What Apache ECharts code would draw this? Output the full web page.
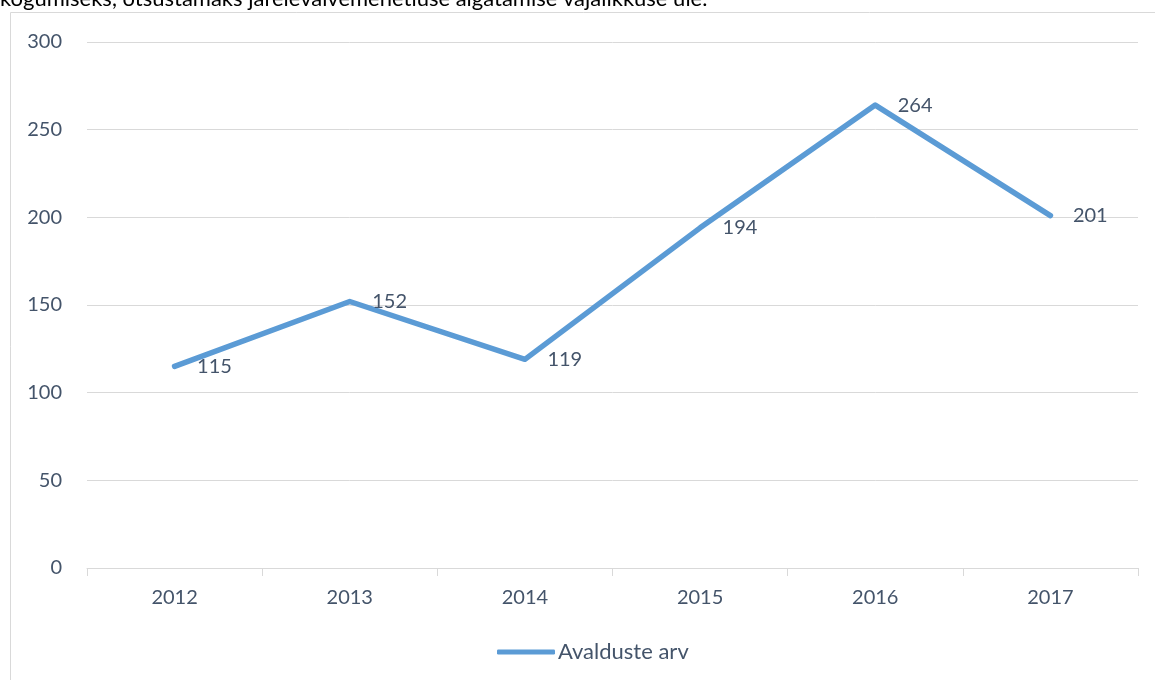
<!DOCTYPE html>
<html><head><meta charset="utf-8">
<script src="https://cdn.jsdelivr.net/npm/echarts@6/dist/echarts.min.js"></script>
<style>html,body{margin:0;padding:0;background:#fff}#c{width:1155px;height:680px}</style>
</head><body><div id="c"></div>
<script>
const categories = ['2012','2013','2014','2015','2016','2017'];
const values = [115, 152, 119, 194, 264, 201];
const seriesName = 'Avalduste arv';
const headText = 'kogumiseks, otsustamaks järelevalvemenetluse algatamise vajalikkuse üle.';
const FONT = 'Lato';
const TXT = '#44546A';
const LINE = '#5B9BD5';
const chart = echarts.init(document.getElementById('c'));
chart.setOption({
  animation: false,
  textStyle: {fontFamily: FONT},
  graphic: [
    {type: 'rect', shape: {x: 10.5, y: 12.5, width: 1160, height: 700}, style: {fill: 'none', stroke: '#D9D9D9', lineWidth: 1}, z: 0},
    {type: 'text', left: 0, top: -12, style: {text: headText, fontSize: 22, fontFamily: FONT, fill: '#000'}}
  ],
  grid: {left: 87, right: 17, top: 42, bottom: 112, containLabel: false},
  legend: {bottom: 12, left: 492, itemWidth: 58, itemHeight: 5, itemGap: 0,
    itemStyle: {color: LINE, opacity: 1, borderWidth: 0},
    textStyle: {fontSize: 22, color: TXT, fontFamily: FONT, padding: [0,0,0,-2]},
    data: [{name: seriesName, icon: 'roundRect', itemStyle: {color: LINE, opacity: 1}}]},
  xAxis: {type: 'category', data: categories, boundaryGap: true,
    axisLine: {lineStyle: {color: '#D9D9D9', width: 1}},
    axisTick: {show: true, length: 8, lineStyle: {color: '#D9D9D9'}},
    axisLabel: {fontSize: 20, color: TXT, margin: 20, fontFamily: FONT}},
  yAxis: {type: 'value', min: 0, max: 300, interval: 50,
    axisLine: {show: false}, axisTick: {show: false},
    splitLine: {lineStyle: {color: '#D9D9D9', width: 1}},
    axisLabel: {fontSize: 20, color: TXT, margin: 25, fontFamily: FONT}},
  series: [{
    name: seriesName, type: 'line', data: values,
    symbol: 'circle', symbolSize: 1, showSymbol: true,
    lineStyle: {color: LINE, width: 5.5, cap: 'round', join: 'round'},
    itemStyle: {color: 'rgba(0,0,0,0)', borderWidth: 0},
    label: {show: true, position: 'right', distance: 22, fontSize: 20, color: TXT, fontFamily: FONT}
  }]
});
</script></body></html>
